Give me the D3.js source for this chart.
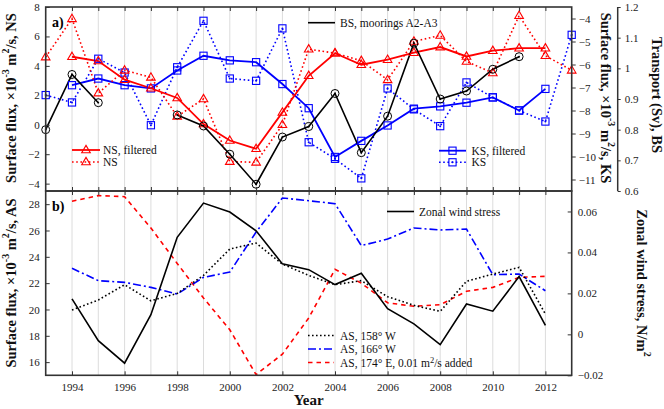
<!DOCTYPE html>
<html>
<head>
<meta charset="utf-8">
<script src="https://cdn.jsdelivr.net/npm/d3@7"></script>
<style>
  body { margin: 0; background: #fff; }
  svg { font-family: "Liberation Serif", "DejaVu Serif", serif; }
</style>
</head>
<body>
<div id="chart"></div>
<script>
// ---- data ----
var yearsAll = d3.range(1993, 2014);        // 1993..2013
var yearsMid = d3.range(1994, 2013);        // 1994..2012

// panel a) surface flux NS (left axis)
var nsRaw  = [4.6, 7.2, 2.15, 3.7, 3.22, 0.57, 1.75, -2.5, -2.55, 0.0, 5.13, 4.87, 4.35, 3.05, 5.66, 6.07, 4.3, 3.52, 7.41, 4.69, 3.7];
var nsFilt = [4.62, 4.33, 3.06, 2.48, 1.82, 0.05, -1.07, -1.63, 0.84, 3.33, 4.86, 4.08, 4.42, 4.9, 5.28, 4.64, 5.03, 5.2, 5.2];

// panel a) surface flux KS (right axis)
var ksRaw  = [-7.33, -7.65, -5.75, -6.35, -8.64, -6.12, -4.1, -6.61, -6.71, -4.43, -9.38, -10.1, -10.95, -7.04, -7.95, -8.68, -6.78, -7.43, -8.0, -8.48, -4.71];
var ksFilt = [-6.9, -6.61, -6.9, -7.04, -6.26, -5.62, -5.82, -5.9, -6.85, -7.9, -10.02, -9.32, -8.65, -7.92, -7.82, -7.66, -7.43, -8.0, -7.06];

// panel a) Bering Strait transport (Sv), moorings A2-A3, gaps as null
var bsYears = d3.range(1993, 2012);
var bsVals  = [0.80, 0.98, 0.888, null, null, 0.848, 0.812, 0.72, 0.622, 0.776, 0.81, 0.918, 0.725, 0.844, 1.082, 0.90, 0.926, 0.997, 1.038];

// panel b) surface flux AS (left axis) and zonal wind stress (right axis)
var as158 = [19.96, 20.72, 21.88, 20.66, 21.22, 22.59, 24.59, 25.05, 23.45, 22.59, 21.88, 22.19, 20.97, 20.31, 19.86, 22.14, 22.69, 23.2, 19.65];
var as166 = [23.13, 22.19, 22.06, 21.68, 21.17, 22.44, 22.84, 25.88, 28.47, 28.26, 28.04, 24.85, 25.35, 26.19, 26.04, 26.11, 22.64, 22.69, 21.42];
var as174 = [28.22, 28.65, 28.57, 26.19, 23.5, 20.87, 18.46, 15.05, 16.61, 19.35, 23.05, 22.0, 20.51, 20.24, 20.36, 21.38, 21.68, 22.44, 22.52];
var wind  = [0.0173, -0.0031, -0.0141, 0.0096, 0.0474, 0.0641, 0.0597, 0.0506, 0.0344, 0.0316, 0.0243, 0.0298, 0.0125, 0.0051, -0.005, 0.0148, 0.0113, 0.0282, 0.0044];

// tick values
var yearTicks = d3.range(1994, 2013, 2);
var nsTicks = [-4, -2, 0, 2, 4, 6, 8];
var ksTicks = [-4, -5, -6, -7, -8, -9, -10, -11];
var trTicks = [0.6, 0.7, 0.8, 0.9, 1, 1.1, 1.2];
var asTicks = [16, 18, 20, 22, 24, 26, 28];
var windTicks = [-0.02, 0, 0.02, 0.04, 0.06];

var RED = "#ff0000", BLUE = "#0000ff";

// ---- layout ----
var W = 664, H = 409;
var left = 45.7, right = 571.7;
var topA = 7, botA = 191, topB = 191, botB = 375.3;
var trAxisX = 617.7;

var svg = d3.select("#chart").append("svg")
  .attr("width", W).attr("height", H);

var x = d3.scaleLinear().domain([1993, 2013]).range([left, right]);
var yNS = d3.scaleLinear().domain([-4.5, 8]).range([botA, topA]);
var yKS = d3.scaleLinear().domain([-11.5, -3.5]).range([botA, topA]);
var yTR = d3.scaleLinear().domain([0.6, 1.2]).range([botA, topA]);
var yAS = d3.scaleLinear().domain([15, 29]).range([botB, topB]);
var yW  = d3.scaleLinear().domain([-0.02, 0.07]).range([botB, topB]);

function zip(xs, ys) { return xs.map(function(d, i) { return {x: d, y: ys[i]}; }); }

// vertical gridlines
[[topA, botA], [topB, botB]].forEach(function(p) {
  svg.append("g").selectAll("line")
    .data(d3.range(1994, 2013))
    .enter().append("line")
      .attr("x1", function(d) { return x(d); })
      .attr("x2", function(d) { return x(d); })
      .attr("y1", p[0]).attr("y2", p[1])
      .attr("stroke", "#dcdcdc").attr("stroke-width", 1);
});

// ---- markers ----
function triangle(g, cx, cy, color) {
  g.append("path")
    .attr("d", "M" + cx + "," + (cy - 4.6) + "L" + (cx + 4.3) + "," + (cy + 2.8) + "L" + (cx - 4.3) + "," + (cy + 2.8) + "Z")
    .attr("fill", "none").attr("stroke", color).attr("stroke-width", 1.1);
}
function square(g, cx, cy, color, dot) {
  g.append("rect")
    .attr("x", cx - 3.6).attr("y", cy - 3.6).attr("width", 7.2).attr("height", 7.2)
    .attr("fill", "none").attr("stroke", color).attr("stroke-width", 1.1);
  if (dot) g.append("circle").attr("cx", cx).attr("cy", cy).attr("r", 1).attr("fill", color);
}
function ring(g, cx, cy) {
  g.append("circle").attr("cx", cx).attr("cy", cy).attr("r", 4)
    .attr("fill", "none").attr("stroke", "#000").attr("stroke-width", 1);
  g.append("circle").attr("cx", cx).attr("cy", cy).attr("r", 0.9).attr("fill", "#000");
}

function drawLine(data, yScale, color, width, dash) {
  var line = d3.line()
    .defined(function(d) { return d.y != null; })
    .x(function(d) { return x(d.x); })
    .y(function(d) { return yScale(d.y); });
  svg.append("path")
    .datum(data)
    .attr("d", line)
    .attr("fill", "none")
    .attr("stroke", color)
    .attr("stroke-width", width)
    .attr("stroke-dasharray", dash || null);
}

// ---- panel a ----
var gA = svg.append("g");
var nsRawData = zip(yearsAll, nsRaw), nsFiltData = zip(yearsMid, nsFilt);
var ksRawData = zip(yearsAll, ksRaw), ksFiltData = zip(yearsMid, ksFilt);
var bsData = zip(bsYears, bsVals);

drawLine(ksRawData, yKS, BLUE, 1.6, "1.6,2.6");
drawLine(ksFiltData, yKS, BLUE, 1.8);
drawLine(nsRawData, yNS, RED, 1.6, "1.6,2.6");
drawLine(nsFiltData, yNS, RED, 1.8);
drawLine(bsData, yTR, "#000", 1.6);

var mk = svg.append("g");
ksRawData.forEach(function(d) { square(mk, x(d.x), yKS(d.y), BLUE, true); });
ksFiltData.forEach(function(d) { square(mk, x(d.x), yKS(d.y), BLUE, false); });
nsRawData.forEach(function(d) { triangle(mk, x(d.x), yNS(d.y), RED); });
nsFiltData.forEach(function(d) { triangle(mk, x(d.x), yNS(d.y), RED); });
bsData.filter(function(d) { return d.y != null; })
  .forEach(function(d) { ring(mk, x(d.x), yTR(d.y)); });

// ---- panel b ----
var as158Data = zip(yearsMid, as158), as166Data = zip(yearsMid, as166);
var as174Data = zip(yearsMid, as174), windData = zip(yearsMid, wind);
drawLine(as174Data, yAS, RED, 1.6, "4.5,4");
drawLine(as166Data, yAS, BLUE, 1.6, "8,3,2,3");
drawLine(as158Data, yAS, "#000", 1.6, "1.6,2.4");
drawLine(windData, yW, "#000", 1.6);

// ---- axes ----
function styleAxis(g) {
  g.select(".domain").remove();
  g.selectAll("line").attr("stroke", "#333");
  g.selectAll("text").attr("font-size", 11).attr("font-family", "Liberation Serif").attr("fill", "#222");
}
// x axes (inward ticks on all four horizontal borders)
svg.append("g").attr("transform", "translate(0," + botB + ")")
  .call(d3.axisBottom(x).tickValues(yearTicks).tickFormat(d3.format("d")).tickSizeInner(-4).tickSizeOuter(0).tickPadding(8))
  .call(styleAxis);
[topA, botA, topB].forEach(function(yy, i) {
  var ax = (i === 0 || i === 2) ? d3.axisTop(x).tickSizeInner(-4) : d3.axisBottom(x).tickSizeInner(-4);
  svg.append("g").attr("transform", "translate(0," + yy + ")")
    .call(ax.tickValues(d3.range(1994, 2013)).tickFormat("").tickSizeOuter(0))
    .call(styleAxis);
});

svg.append("g").attr("transform", "translate(" + left + ",0)")
  .call(d3.axisLeft(yNS).tickValues(nsTicks).tickSizeInner(-4).tickSizeOuter(0).tickPadding(6))
  .call(styleAxis);
svg.append("g").attr("transform", "translate(" + right + ",0)")
  .call(d3.axisRight(yKS).tickValues(ksTicks).tickSizeInner(4).tickSizeOuter(0).tickPadding(3))
  .call(styleAxis);
svg.append("g").attr("transform", "translate(" + left + ",0)")
  .call(d3.axisLeft(yAS).tickValues(asTicks).tickSizeInner(-4).tickSizeOuter(0).tickPadding(6))
  .call(styleAxis);
svg.append("g").attr("transform", "translate(" + right + ",0)")
  .call(d3.axisRight(yW).tickValues(windTicks).tickFormat(function(d) { return d === 0 ? "0" : d3.format(".2f")(d); })
    .tickSizeInner(-4).tickSizeOuter(0).tickPadding(6))
  .call(styleAxis);

// transport axis standing off to the right
var trG = svg.append("g").attr("transform", "translate(" + trAxisX + ",0)")
  .call(d3.axisRight(yTR).tickValues(trTicks).tickFormat(function(d) { return d === 1 ? "1" : d3.format(".1f")(d); })
    .tickSizeInner(3).tickSizeOuter(0).tickPadding(4))
  .call(styleAxis);
trG.append("line").attr("x1", 0).attr("x2", 0).attr("y1", topA).attr("y2", botA)
  .attr("stroke", "#333").attr("stroke-width", 1.5);

// panel frames
[[topA, botA], [topB, botB]].forEach(function(p) {
  svg.append("rect")
    .attr("x", left).attr("y", p[0]).attr("width", right - left).attr("height", p[1] - p[0])
    .attr("fill", "none").attr("stroke", "#333").attr("stroke-width", 1.6);
});

// ---- titles ----
function fluxTitle(g, suffix) {
  g.append("tspan").text("Surface flux, \u00d710");
  g.append("tspan").text("-3").attr("font-size", 10).attr("dy", -6);
  g.append("tspan").text(" m").attr("dy", 6);
  g.append("tspan").text("2").attr("font-size", 10).attr("dy", -6);
  g.append("tspan").text("/s, " + suffix).attr("dy", 6);
}
function vTitle(cx, cy, rot) {
  return svg.append("text")
    .attr("transform", "translate(" + cx + "," + cy + ") rotate(" + rot + ")")
    .attr("text-anchor", "middle")
    .attr("dominant-baseline", "middle")
    .attr("font-size", 14.5).attr("font-weight", "bold").attr("fill", "#111");
}
fluxTitle(vTitle(13, 98, -90), "NS");
fluxTitle(vTitle(13, 283, -90), "AS");
fluxTitle(vTitle(604, 98, 90), "KS");
vTitle(655, 95, 90).text("Transport (Sv), BS");
var wt = vTitle(640, 283, 90);
wt.append("tspan").text("Zonal wind stress, N/m");
wt.append("tspan").text("2").attr("font-size", 10).attr("dy", -6);

svg.append("text").attr("x", 308.7).attr("y", 405)
  .attr("text-anchor", "middle").attr("font-size", 15).attr("font-weight", "bold")
  .attr("fill", "#111").text("Year");

svg.append("text").attr("x", 52).attr("y", 27).attr("font-size", 14).attr("font-weight", "bold").text("a)");
svg.append("text").attr("x", 52).attr("y", 211).attr("font-size", 14).attr("font-weight", "bold").text("b)");

// ---- legends ----
function legendLine(x0, x1, y, color, width, dash) {
  svg.append("line").attr("x1", x0).attr("x2", x1).attr("y1", y).attr("y2", y)
    .attr("stroke", color).attr("stroke-width", width).attr("stroke-dasharray", dash || null);
}
function legendText(x0, y, txt) {
  return svg.append("text").attr("x", x0).attr("y", y).attr("dy", "0.35em")
    .attr("font-size", 11.5).attr("fill", "#111").text(txt);
}
var lg = svg.append("g");
legendLine(72, 100, 150, RED, 1.8); triangle(lg, 86, 150, RED); legendText(103, 150, "NS, filtered");
legendLine(72, 100, 162, RED, 1.6, "1.6,2.6"); triangle(lg, 86, 162, RED); legendText(103, 162, "NS");

legendLine(308, 335, 22.7, "#000", 1.6); legendText(340, 22.7, "BS, moorings A2-A3");

legendLine(439, 466, 150.7, BLUE, 1.8); square(lg, 452.5, 150.7, BLUE, false); legendText(471.5, 150.7, "KS, filtered");
legendLine(439, 466, 162.3, BLUE, 1.6, "1.6,2.6"); square(lg, 452.5, 162.3, BLUE, true); legendText(471.5, 162.3, "KS");

legendLine(387, 414, 211.5, "#000", 1.6); legendText(419, 211.5, "Zonal wind stress");

legendLine(308, 334, 335.5, "#000", 1.6, "1.6,2.4"); legendText(340, 335.5, "AS, 158\u00b0 W");
legendLine(308, 334, 349, BLUE, 1.6, "8,3,2,3"); legendText(340, 349, "AS, 166\u00b0 W");
legendLine(308, 334, 362.5, RED, 1.6, "4.5,4");
var t3 = legendText(340, 362.5, "");
t3.append("tspan").text("AS, 174\u00b0 E, 0.01 m");
t3.append("tspan").text("2").attr("font-size", 8.5).attr("dy", -4);
t3.append("tspan").text("/s added").attr("dy", 4);
</script>
</body>
</html>
